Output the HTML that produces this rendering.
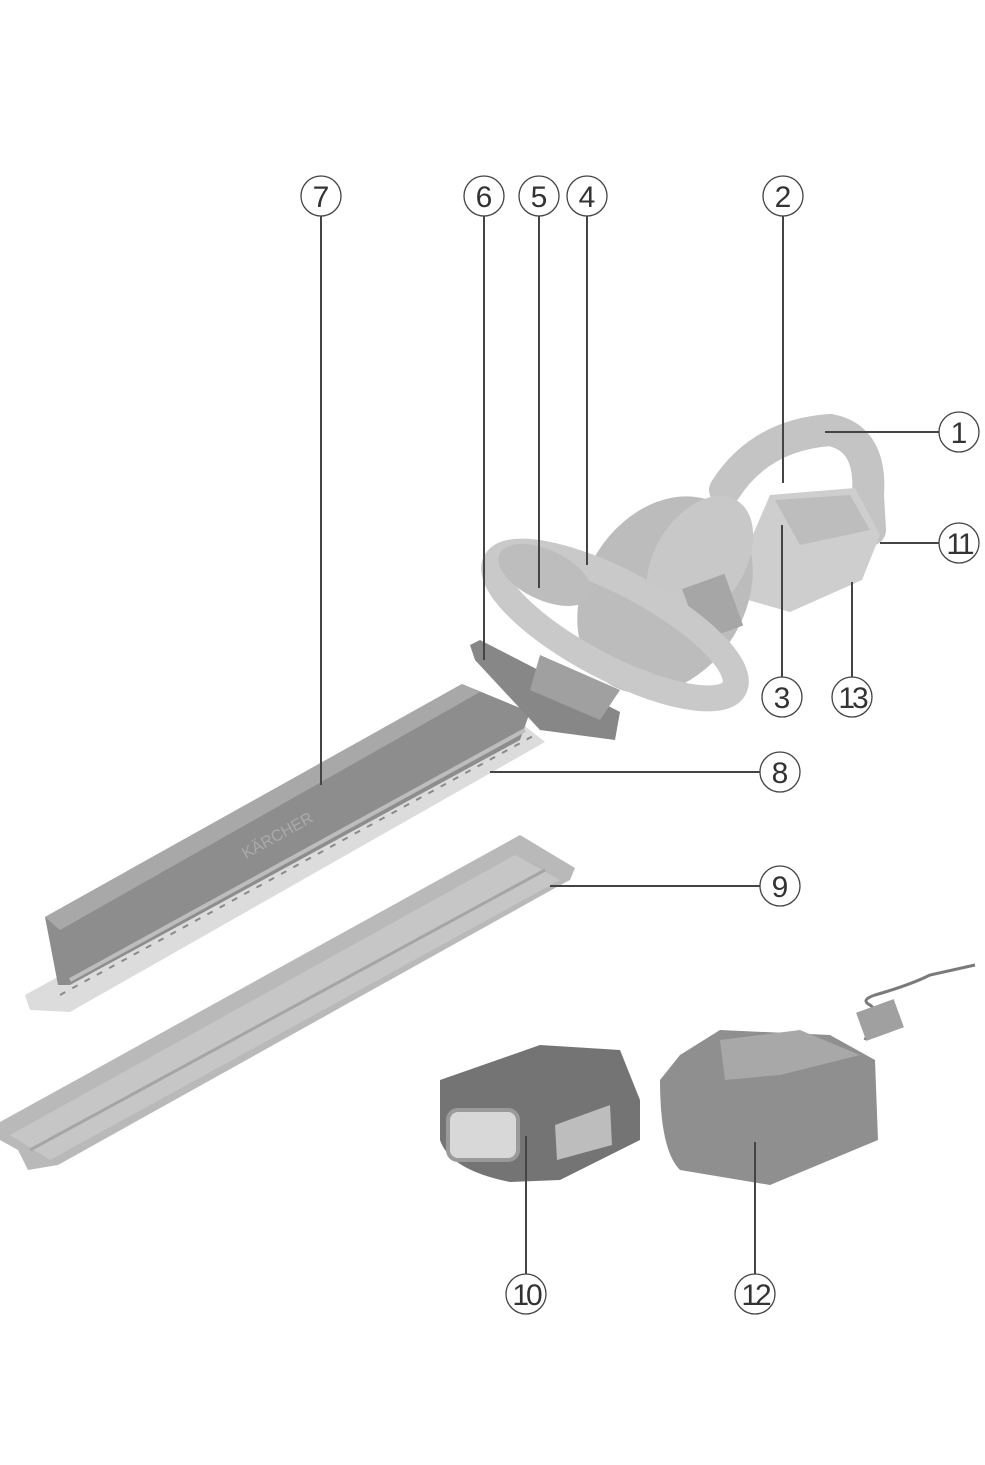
<!DOCTYPE html>
<html><head><meta charset="utf-8"><style>
html,body{margin:0;padding:0;background:#fff}
svg{display:block}
text{font-family:"Liberation Sans",sans-serif;font-size:30px;fill:#333;text-anchor:middle}
</style></head><body>
<svg width="985" height="1465" viewBox="0 0 985 1465" xmlns="http://www.w3.org/2000/svg">
<!-- sheath -->
<polygon points="0,1122 520,835 575,868 570,880 555,888 58,1165 28,1170 18,1150 0,1140" fill="#b9b9b9"/>
<polygon points="10,1135 515,855 560,880 50,1160" fill="#c6c6c6"/>
<line x1="30" y1="1150" x2="545" y2="870" stroke="#a5a5a5" stroke-width="3"/>
<!-- teeth band -->
<polygon points="25,995 520,722 545,742 70,1012 30,1010" fill="#dcdcdc"/>
<line x1="60" y1="995" x2="535" y2="735" stroke="#8a8a8a" stroke-width="2" stroke-dasharray="6 8"/>
<!-- blade guard -->
<polygon points="45,917 462,684 530,712 520,740 70,985 58,985" fill="#8d8d8d"/>
<polygon points="45,917 462,684 480,692 60,930" fill="#a8a8a8"/>
<line x1="70" y1="980" x2="525" y2="730" stroke="#bdbdbd" stroke-width="4"/>
<text x="280" y="840" transform="rotate(-29 280 840)" style="font-size:16px;fill:#aaa">KÄRCHER</text>
<!-- body -->
<path d="M725,490 Q760,435 830,430 Q872,438 868,495 L870,530" fill="none" stroke="#c4c4c4" stroke-width="32" stroke-linecap="round"/>
<polygon points="770,495 855,488 880,535 862,580 790,612 748,600 742,560" fill="#cecece"/>
<polygon points="775,500 850,495 870,530 800,545" fill="#bdbdbd"/>
<ellipse cx="665" cy="595" rx="80" ry="105" transform="rotate(32 665 595)" fill="#bcbcbc"/>
<ellipse cx="700" cy="560" rx="45" ry="70" transform="rotate(32 700 560)" fill="#c8c8c8"/>
<rect x="690" y="580" width="45" height="55" fill="#a6a6a6" transform="rotate(-20 712 607)"/>
<ellipse cx="615" cy="625" rx="135" ry="42" transform="rotate(28 615 625)" fill="none" stroke="#c9c9c9" stroke-width="26"/>
<ellipse cx="545" cy="575" rx="50" ry="25" transform="rotate(25 545 575)" fill="#bdbdbd"/>
<polygon points="470,645 480,640 620,712 615,740 540,730 475,660" fill="#878787"/>
<polygon points="540,655 620,690 600,720 530,690" fill="#a0a0a0"/>
<!-- battery -->
<path d="M440,1080 L540,1045 L620,1050 L640,1100 L640,1140 L560,1180 L510,1182 Q450,1170 440,1140Z" fill="#747474"/>
<rect x="448" y="1110" width="70" height="50" rx="10" fill="#d8d8d8" stroke="#9a9a9a" stroke-width="4"/>
<polygon points="555,1125 610,1105 612,1145 557,1160" fill="#bdbdbd"/>
<!-- charger -->
<path d="M680,1055 L720,1030 L830,1035 L875,1060 L878,1140 L770,1185 L680,1170 Q660,1150 660,1080Z" fill="#8f8f8f"/>
<polygon points="720,1040 800,1030 860,1055 780,1075 725,1080" fill="#a8a8a8"/>
<path d="M865,1040 Q880,1010 870,1005 Q860,1000 875,995 Q910,985 930,975 L975,965" fill="none" stroke="#7a7a7a" stroke-width="3"/>
<rect x="860" y="1005" width="40" height="30" fill="#a0a0a0" transform="rotate(-20 880 1020)"/>
<!-- leader lines -->
<g stroke="#444" stroke-width="2" fill="none">
<line x1="321" y1="216" x2="321" y2="785"/>
<line x1="484" y1="216" x2="484" y2="660"/>
<line x1="539" y1="216" x2="539" y2="588"/>
<line x1="587" y1="216" x2="587" y2="565"/>
<line x1="783" y1="216" x2="783" y2="483"/>
<line x1="825" y1="432" x2="939" y2="432"/>
<line x1="880" y1="543" x2="939" y2="543"/>
<line x1="782" y1="677" x2="782" y2="525"/>
<line x1="852" y1="677" x2="852" y2="582"/>
<line x1="490" y1="772" x2="760" y2="772"/>
<line x1="550" y1="886" x2="760" y2="886"/>
<line x1="526" y1="1274" x2="526" y2="1136"/>
<line x1="755" y1="1274" x2="755" y2="1142"/>
</g>
<g fill="#fff" stroke="#444" stroke-width="1.3">
<circle cx="321" cy="196" r="20"/><circle cx="484" cy="196" r="20"/><circle cx="539" cy="196" r="20"/><circle cx="587" cy="196" r="20"/><circle cx="783" cy="196" r="20"/>
<circle cx="959" cy="432" r="20"/><circle cx="959" cy="543" r="20"/><circle cx="782" cy="697" r="20"/><circle cx="852" cy="697" r="20"/>
<circle cx="780" cy="772" r="20"/><circle cx="780" cy="886" r="20"/><circle cx="526" cy="1294" r="20"/><circle cx="755" cy="1294" r="20"/>
</g>
<text x="321" y="207">7</text><text x="484" y="207">6</text><text x="539" y="207">5</text><text x="587" y="207">4</text><text x="783" y="207">2</text>
<text x="959" y="443">1</text><text x="959" y="554" style="letter-spacing:-3px">11</text><text x="782" y="708">3</text><text x="852" y="708" style="letter-spacing:-3px">13</text>
<text x="780" y="783">8</text><text x="780" y="897">9</text><text x="526" y="1305" style="letter-spacing:-3px">10</text><text x="755" y="1305" style="letter-spacing:-3px">12</text>
</svg>
</body></html>
